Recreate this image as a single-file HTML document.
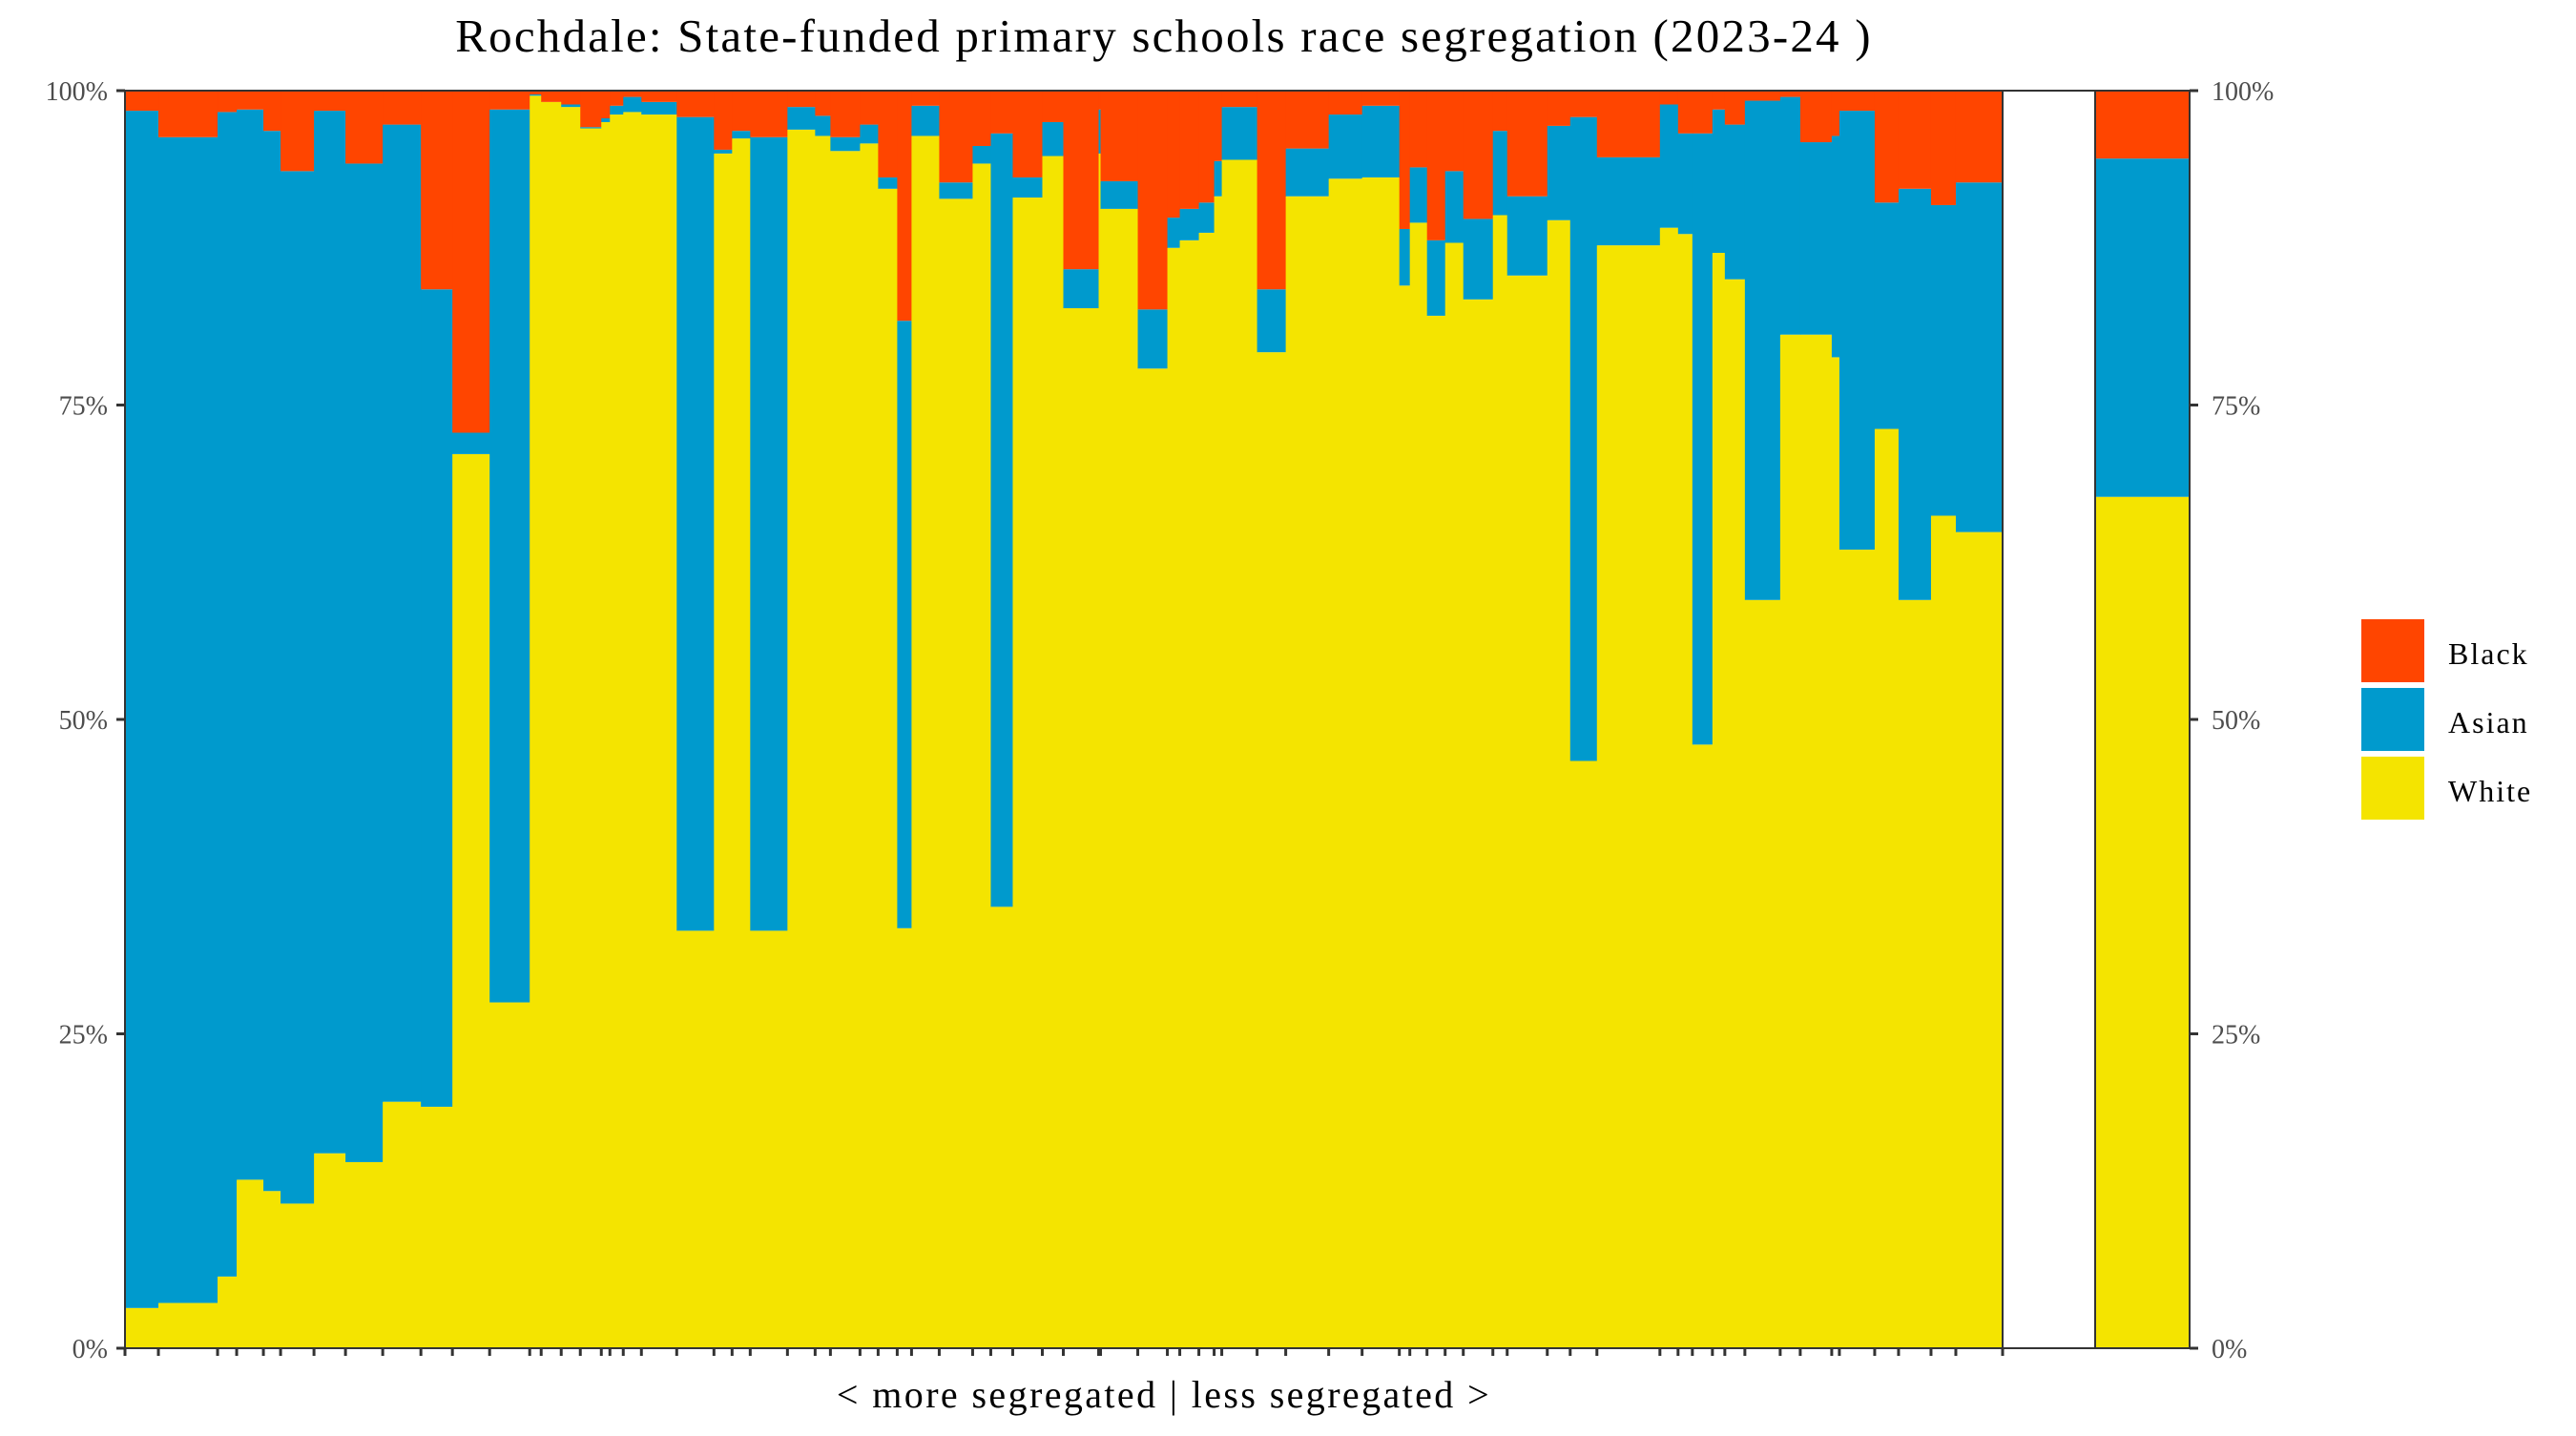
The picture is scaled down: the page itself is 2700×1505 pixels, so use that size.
<!DOCTYPE html>
<html><head><meta charset="utf-8"><style>
html,body{margin:0;padding:0;background:#fff;}
svg text{font-family:"Liberation Serif",serif;}
</style></head><body>
<svg id="chart" width="2700" height="1500" viewBox="0 0 2700 1500" xmlns="http://www.w3.org/2000/svg">
<rect width="2700" height="1500" fill="#fff"/>
<text x="1220" y="54" text-anchor="middle" font-size="49" letter-spacing="2.2" fill="#000">Rochdale: State-funded primary schools race segregation (2023-24 )</text>
<g id="bars"></g>
<g id="axes"></g>
<text x="1220" y="1475" text-anchor="middle" font-size="40" letter-spacing="2.4" fill="#000">&lt; more segregated | less segregated &gt;</text>
<g>
<rect x="2475" y="649" width="66" height="66" fill="#FF4500"/>
<rect x="2475" y="721" width="66" height="66" fill="#009ACD"/>
<rect x="2475" y="793" width="66" height="66" fill="#F4E400"/>
<text x="2566" y="696" font-size="32" letter-spacing="2" fill="#000">Black</text>
<text x="2566" y="768" font-size="32" letter-spacing="2" fill="#000">Asian</text>
<text x="2566" y="840" font-size="32" letter-spacing="2" fill="#000">White</text>
</g>
</svg>
<script>
const pupils=[35,62,20,28,18,35,33,39,40,33,39,42,12,21,20,22,9,14,19,37,39,19,19,39,29,16,31,19,20,15,29,35,19,23,31,22,37,2,39,31,13,20,16,8,37,30,45,35,39,11,18,19,19,31,15,42,24,28,66,19,15,21,13,21,37,21,33,8,37,25,34,26,49];
const whitePct=[3.2,3.6,5.7,13.4,12.5,11.5,15.5,14.8,19.6,19.2,71.1,27.5,99.6,99.1,98.7,97.0,97.5,98.1,98.3,98.1,33.2,95.0,96.2,33.2,96.9,96.4,95.2,95.8,92.2,33.4,96.4,91.4,94.2,35.1,91.5,94.8,82.7,95.0,90.6,77.9,87.5,88.1,88.7,91.6,94.5,79.2,91.6,93.0,93.1,84.5,89.5,82.1,87.9,83.4,90.1,85.3,89.7,46.7,87.7,89.1,88.6,48.0,87.1,85.0,59.5,80.6,80.6,78.8,63.5,73.1,59.5,66.2,64.9];
const blackPct=[1.6,3.7,1.7,1.5,3.2,6.4,1.6,5.8,2.7,15.8,27.2,1.5,0.3,0.9,1.1,2.9,2.2,1.2,0.5,0.9,2.1,4.7,3.2,3.7,1.3,2.0,3.7,2.7,6.9,18.3,1.2,7.3,4.4,3.4,6.9,2.5,14.2,1.5,7.2,17.4,10.1,9.4,8.9,5.6,1.3,15.8,4.6,1.9,1.2,11.0,6.1,11.9,6.4,10.2,3.2,8.4,2.8,2.1,5.3,1.1,3.4,3.4,1.5,2.7,0.8,0.5,4.1,3.6,1.6,8.9,7.8,9.1,7.3];
const totalWhite=67.7;
const totalBlack=5.4;
const yTicks=[0,25,50,75,100];
const yTickLabels=["0%","25%","50%","75%","100%"];

const NS="http://www.w3.org/2000/svg";
const L=131,R=2099,T=95,B=1413;
const P2L=2196,P2R=2295;
const COL={white:"#F4E400",asian:"#009ACD",black:"#FF4500"};
const total=pupils.reduce((a,b)=>a+b,0);
const xs=v=>L+(R-L)*v/total;
const ys=v=>B-(B-T)*v/100;
const bars=document.getElementById('bars');
const axes=document.getElementById('axes');
function mk(tag,attrs,parent){const e=document.createElementNS(NS,tag);for(const k in attrs)e.setAttribute(k,attrs[k]);parent.appendChild(e);return e;}
function seg(x0,x1,lo,hi,color,name){
  const r=mk('rect',{x:x0,y:ys(hi),width:Math.max(0,x1-x0)+0.6,height:Math.max(0,ys(lo)-ys(hi)),fill:color},bars);
  
  
}
let cum=0;
const bounds=[];
for(let i=0;i<pupils.length;i++){
  const x0=xs(cum),x1=xs(cum+pupils[i]);
  bounds.push(x0);
  const w=whitePct[i],b=blackPct[i],a=100-w-b;
  seg(x0,x1,0,w,COL.white,'bar-white-'+i);
  seg(x0,x1,w,w+a,COL.asian,'bar-asian-'+i);
  seg(x0,x1,w+a,100,COL.black,'bar-black-'+i);
  cum+=pupils[i];
}
bounds.push(xs(cum));
{
  const a=100-totalWhite-totalBlack;
  seg(P2L,P2R,0,totalWhite,COL.white,'total-white');
  seg(P2L,P2R,totalWhite,totalWhite+a,COL.asian,'total-asian');
  seg(P2L,P2R,totalWhite+a,100,COL.black,'total-black');
}
[[L,R,'main-panel-frame'],[R,P2L,'gap-panel-frame'],[P2L,P2R,'total-panel-frame']].forEach(p=>{
  const r=mk('rect',{x:p[0],y:T,width:p[1]-p[0],height:B-T,fill:'none',stroke:'#333',"stroke-width":2},axes);
  
  
});
yTicks.forEach((v,i)=>{
  const y=ys(v);
  const t1=mk('line',{x1:L-9,x2:L,y1:y,y2:y,stroke:'#333',"stroke-width":3},axes);
  
  
  const l1=mk('text',{x:L-18,y:y+10,"text-anchor":"end","font-size":28,fill:'#4d4d4d'},axes);
  l1.textContent=yTickLabels[i];
  
  
  const t2=mk('line',{x1:P2R,x2:P2R+9,y1:y,y2:y,stroke:'#333',"stroke-width":3},axes);
  
  
  const l2=mk('text',{x:P2R+23,y:y+10,"text-anchor":"start","font-size":28,fill:'#4d4d4d'},axes);
  l2.textContent=yTickLabels[i];
  
  
});
bounds.forEach(x=>{
  const t=mk('line',{x1:x,x2:x,y1:B,y2:B+8,stroke:'#333',"stroke-width":3},axes);
  
  
});
</script>
</body></html>
